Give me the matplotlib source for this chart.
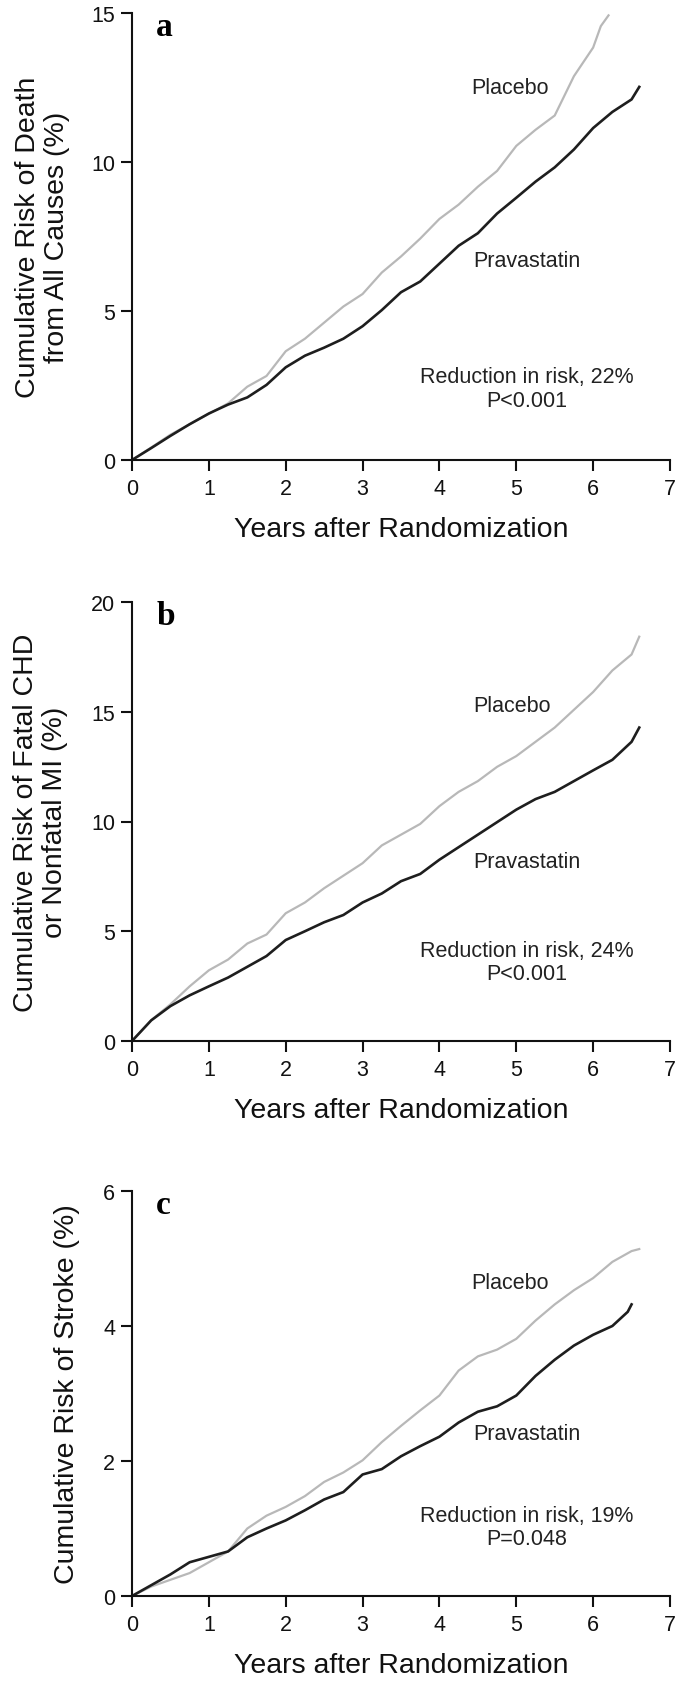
import matplotlib
matplotlib.use("Agg")
import matplotlib.pyplot as plt
from matplotlib import font_manager

# pick a narrow-ish sans that is installed
names = {f.name for f in font_manager.fontManager.ttflist}
SANS = 'DejaVu Sans'
for cand in ['Liberation Sans Narrow', 'Liberation Sans', 'Roboto']:
    if cand in names:
        SANS = cand
        break
SERIF = "Liberation Serif" if "Liberation Serif" in names else "DejaVu Serif"
plt.rcParams['font.family'] = [SANS, 'DejaVu Sans']

# Years after randomization
years = [0, 0.25, 0.5, 0.75, 1.0, 1.25, 1.5, 1.75, 2.0, 2.25, 2.5, 2.75, 3.0, 3.25,
         3.5, 3.75, 4.0, 4.25, 4.5, 4.75, 5.0, 5.25, 5.5, 5.75, 6.0, 6.25, 6.5]

# a) death from all causes
a_prava_x = years + [6.6]
a_prava = [0, 0.4, 0.81, 1.2, 1.56, 1.86, 2.1, 2.52, 3.11, 3.5, 3.77, 4.07, 4.49, 5.03,
           5.63, 5.99, 6.59, 7.19, 7.61, 8.27, 8.8, 9.34, 9.82, 10.42, 11.14, 11.68, 12.1, 12.52]
a_plac_x = years[:25] + [6.1, 6.2]
a_plac = [0, 0.42, 0.85, 1.2, 1.55, 1.9, 2.46, 2.82, 3.65, 4.07, 4.61, 5.15, 5.57, 6.29,
          6.83, 7.43, 8.09, 8.57, 9.17, 9.7, 10.54, 11.08, 11.56, 12.88, 13.84, 14.56, 14.92]

# b) fatal CHD or nonfatal MI
b_prava_x = years + [6.6]
b_prava = [0, 0.94, 1.59, 2.08, 2.49, 2.89, 3.38, 3.87, 4.6, 5.0, 5.41, 5.74, 6.31, 6.72,
           7.28, 7.61, 8.26, 8.83, 9.4, 9.97, 10.54, 11.02, 11.35, 11.84, 12.33, 12.81, 13.63, 14.28]
b_plac_x = years + [6.6]
b_plac = [0, 0.95, 1.67, 2.49, 3.22, 3.71, 4.44, 4.85, 5.82, 6.31, 6.96, 7.53, 8.1, 8.91,
          9.4, 9.89, 10.7, 11.35, 11.84, 12.49, 12.98, 13.63, 14.28, 15.09, 15.9, 16.88, 17.61, 18.42]

# c) stroke
c_prava_x = years[:26] + [6.45, 6.5]
c_prava = [0, 0.16, 0.32, 0.5, 0.58, 0.66, 0.87, 1.0, 1.12, 1.27, 1.43, 1.54, 1.8, 1.88,
           2.07, 2.22, 2.36, 2.57, 2.73, 2.81, 2.97, 3.26, 3.5, 3.71, 3.87, 4.0, 4.21, 4.32]
c_plac_x = years + [6.6]
c_plac = [0, 0.14, 0.24, 0.34, 0.5, 0.66, 1.0, 1.19, 1.32, 1.48, 1.69, 1.83, 2.01, 2.28,
          2.52, 2.75, 2.97, 3.34, 3.55, 3.65, 3.81, 4.08, 4.32, 4.53, 4.71, 4.95, 5.11, 5.14]

letters = ['a', 'b', 'c']
ylabels = ['Cumulative Risk of Death\nfrom All Causes (%)',
           'Cumulative Risk of Fatal CHD\nor Nonfatal MI (%)',
           'Cumulative Risk of Stroke (%)']
ymax = [15, 20, 6]
ystep = [5, 5, 2]
reductions = ['Reduction in risk, 22%\nP<0.001',
              'Reduction in risk, 24%\nP<0.001',
              'Reduction in risk, 19%\nP=0.048']

W, H = 685, 1683
fig = plt.figure(figsize=(W / 100, H / 100), dpi=100)

# axes boxes in pixels: (left, top, right, bottom)
boxes = [(132, 14, 670, 461), (132, 603, 670, 1042), (132, 1192, 670, 1597)]
ylab_x = [42.5, 40, 67]
# label positions in data units (placebo, pravastatin, reduction text)
lab_pos = [((4.92, 12.5), (5.14, 6.68), (5.14, 2.4)),
           ((4.95, 15.28), (5.14, 8.2), (5.14, 3.6)),
           ((4.92, 4.64), (5.14, 2.41), (5.14, 1.02))]

series = [(a_plac_x, a_plac, a_prava_x, a_prava),
          (b_plac_x, b_plac, b_prava_x, b_prava),
          (c_plac_x, c_plac, c_prava_x, c_prava)]

for i in range(3):
    l, t, r, b = boxes[i]
    ax = fig.add_axes([l / W, 1 - b / H, (r - l) / W, (b - t) / H])
    px, py, qx, qy = series[i]
    ax.plot(px, py, color='#b8b8b8', lw=1.6)
    ax.plot(qx, qy, color='#1e1e1e', lw=1.9)

    ax.set_xlim(0, 7)
    ax.set_ylim(0, ymax[i])
    ax.set_xticks(range(0, 8))
    ax.set_yticks(range(0, ymax[i] + 1, ystep[i]))
    for s in ['top', 'right']:
        ax.spines[s].set_visible(False)
    for s in ['left', 'bottom']:
        ax.spines[s].set_linewidth(1.5)
        ax.spines[s].set_color('#111111')
    ax.tick_params(direction='out', length=8, width=1.5, labelsize=15.5, color='#111111',
                   labelcolor='#111111')
    ax.tick_params(axis='x', pad=5)
    ax.tick_params(axis='y', pad=4)

    ax.set_xlabel('Years after Randomization', fontsize=20.5, color='#111111', va='center')
    ax.xaxis.set_label_coords(0.5, -69 / (b - t))
    ax.set_ylabel(ylabels[i], fontsize=20.5, color='#111111', va='center', linespacing=1.15)
    ax.yaxis.set_label_coords((ylab_x[i] - l) / (r - l), 0.5)

    ax.text(0.045, 1 - 22 / (b - t), letters[i],
            transform=ax.transAxes, family=SERIF, fontweight='bold', fontsize=24,
            ha='left', va='baseline', color='black')

    p1, p2, p3 = lab_pos[i]
    ax.text(p1[0], p1[1], 'Placebo', fontsize=15.5, ha='center', va='center', color='#222222')
    ax.text(p2[0], p2[1], 'Pravastatin', fontsize=15.5, ha='center', va='center', color='#222222')
    ax.text(p3[0], p3[1], reductions[i], fontsize=15.5, ha='center', va='center',
            multialignment='center', linespacing=1.15, color='#222222')

fig.savefig('out.png', dpi=100)
